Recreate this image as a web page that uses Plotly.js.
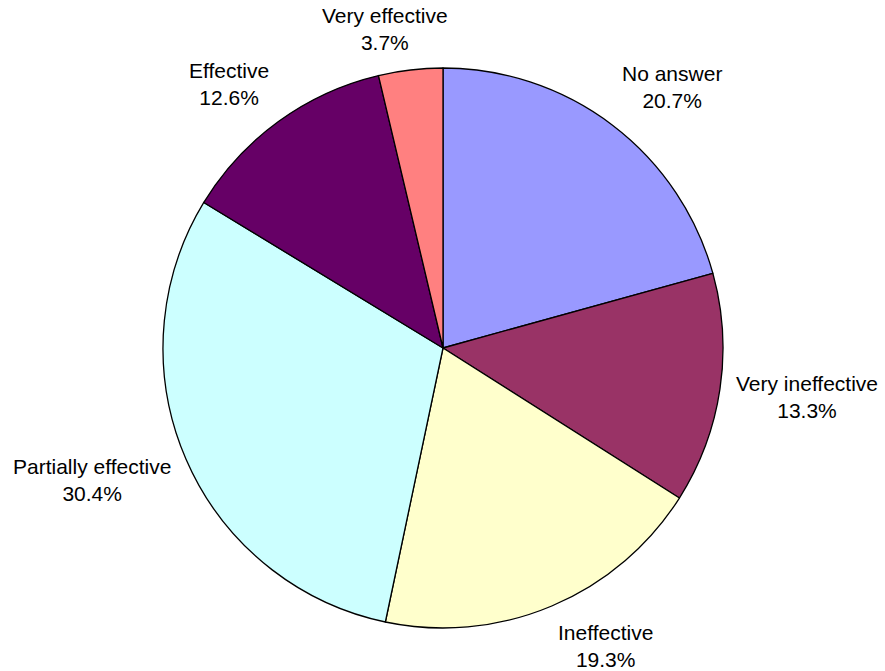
<!DOCTYPE html>
<html>
<head>
<meta charset="utf-8">
<script src="https://cdn.plot.ly/plotly-3.0.1.min.js"></script>
<style>html,body{margin:0;padding:0;background:#fff;}#chart{width:885px;height:671px;}</style>
</head>
<body>
<div id="chart"></div>
<script>
const categories = ["No answer", "Very ineffective", "Ineffective", "Partially effective", "Effective", "Very effective"];
const values = [20.7, 13.3, 19.3, 30.4, 12.6, 3.7];
const colors = ["#9999FF", "#993366", "#FFFFCC", "#CCFFFF", "#660066", "#FF8080"];

const FONT_FAMILY = "Liberation Sans, Arial, sans-serif";
const FONT_SIZE = 21;
const W = 885, H = 671;
const margin = {l: 163, r: 162, t: 68, b: 43};
const plotW = W - margin.l - margin.r;   // 560
const plotH = H - margin.t - margin.b;   // 560
const R = Math.min(plotW, plotH) / 2;    // pie radius in px
const labelGap = 16;
const boxH = 50;

// measure label widths
const ctx = document.createElement("canvas").getContext("2d");
ctx.font = FONT_SIZE + "px 'Liberation Sans', Arial, sans-serif";

const total = values.reduce((a, b) => a + b, 0);
const annotations = [];
let cum = 0;
categories.forEach((cat, i) => {
  const v = values[i];
  const pct = (v / total * 100).toFixed(1) + "%";
  const theta = (cum + v / 2) / total * 2 * Math.PI; // clockwise from top
  cum += v;
  const s = Math.sin(theta), c = Math.cos(theta);
  const r = R + labelGap;
  const px = s * r, py = -c * r; // screen offset from centre
  const w = Math.max(ctx.measureText(cat).width, ctx.measureText(pct).width);
  const fx = Math.min(1, Math.max(0, 0.5 - 1.6 * s));
  const fy = Math.min(1, Math.max(0, 0.5 + 0.74 * c));
  const bx = px + w * (0.5 - fx);
  const by = py + boxH * (0.5 - fy);
  annotations.push({
    xref: "paper", yref: "paper",
    x: 0.5 + bx / plotW, y: 0.5 - by / plotH,
    xanchor: "center", yanchor: "middle",
    text: cat + "<br>" + pct,
    showarrow: false, align: "center",
    font: {family: FONT_FAMILY, size: FONT_SIZE, color: "#000000"}
  });
});

Plotly.newPlot("chart", [{
  type: "pie",
  labels: categories,
  values: values,
  sort: false,
  direction: "clockwise",
  rotation: 0,
  marker: {colors: colors, line: {color: "#000000", width: 1.3}},
  textinfo: "none",
  hoverinfo: "none",
  showlegend: false
}], {
  width: W, height: H,
  margin: margin,
  paper_bgcolor: "#ffffff",
  showlegend: false,
  annotations: annotations
}, {displayModeBar: false, staticPlot: true});
</script>
</body>
</html>
